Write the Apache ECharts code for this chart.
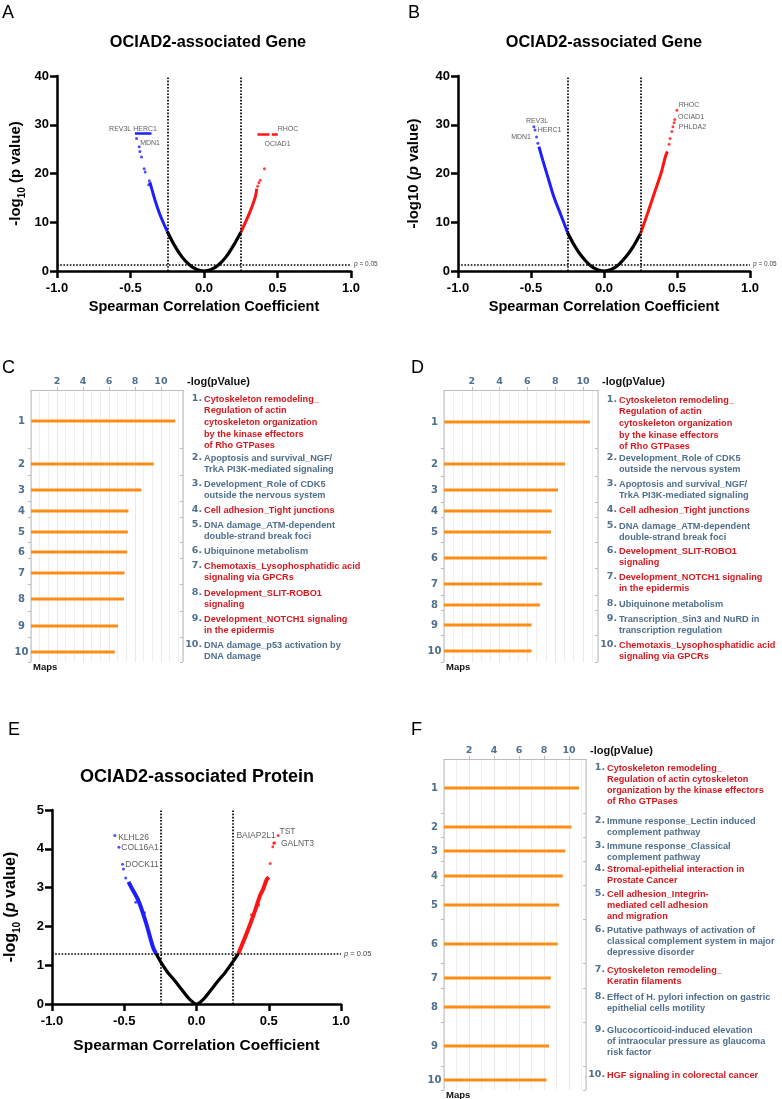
<!DOCTYPE html>
<html><head><meta charset="utf-8">
<script src="https://cdn.jsdelivr.net/npm/echarts@6/dist/echarts.min.js"></script>
<style>html,body{margin:0;padding:0;background:#fff}#main{width:782px;height:1099px}</style>
</head><body><div id="main"></div>
<script>
// ---------------- DATA ----------------
// Panel A volcano (Spearman r, -log10 p)
const aBlackCurve=[[-0.25,8.1],[-0.2,5.2],[-0.15,2.9],[-0.1,1.3],[-0.05,0.33],[0,0],[0.05,0.33],[0.1,1.3],[0.15,2.9],[0.2,5.2],[0.25,7.9]];
const aBlueCurve=[[-0.25,8.1],[-0.3,11.6],[-0.33,14.2],[-0.355,16.8],[-0.368,18.2]];
const aBlueDots=[[-0.372,18.5],[-0.376,17.7],[-0.4,20.3],[-0.407,21],[-0.425,23.4],[-0.436,24.5],[-0.441,25.5],[-0.459,27.2]];
const aRedCurve=[[0.25,7.9],[0.3,11.2],[0.33,13.5],[0.35,15.3],[0.359,16.9]];
const aRedDots=[[0.365,17.4],[0.373,18.1],[0.382,18.6],[0.411,21]];
const aBlueCapRuns=[[[-0.47,28.2],[-0.357,28.2]]];
const aRedCapRuns=[[[0.364,28.1],[0.445,28.1]],[[0.461,28.1],[0.502,28.1]]];
const aGeneLabels=[{name:'REV3L HERC1',value:[-0.483,29.1]},{name:'MDN1',value:[-0.367,26.3]},{name:'RHOC',value:[0.571,29.1]},{name:'OCIAD1',value:[0.5,26.0]}];

// Panel B volcano
const bBlackCurve=[[-0.25,7.9],[-0.2,5.1],[-0.15,2.9],[-0.1,1.3],[-0.05,0.33],[0,0],[0.05,0.33],[0.1,1.3],[0.15,2.9],[0.2,5.0],[0.25,7.7]];
const bBlueCurve=[[-0.25,7.9],[-0.294,11.4],[-0.34,14.9],[-0.385,19.3],[-0.419,22.7],[-0.446,25.5]];
const bBlueDots=[[-0.453,26.2],[-0.462,27.5],[-0.472,28.9],[-0.48,29.6]];
const bRedCurve=[[0.25,7.7],[0.298,11.8],[0.344,15.9],[0.39,20],[0.424,23.8],[0.435,24.5]];
const bRedDots=[[0.446,26],[0.453,27.2],[0.465,28.6],[0.472,29.6],[0.48,30.4],[0.485,31.1],[0.499,33]];
const bGeneLabels=[{name:'RHOC',value:[0.582,34.1]},{name:'OCIAD1',value:[0.596,31.6]},{name:'PHLDA2',value:[0.606,29.5]},{name:'REV3L',value:[-0.459,30.8]},{name:'HERC1',value:[-0.373,28.9]},{name:'MDN1',value:[-0.568,27.5]}];

// Panel E volcano (protein)
const eBlackCurve=[[-0.28,1.3],[-0.25,1.1],[-0.2,0.82],[-0.15,0.6],[-0.1,0.36],[-0.05,0.13],[0,0],[0.05,0.13],[0.1,0.36],[0.15,0.6],[0.2,0.82],[0.25,1.08],[0.29,1.3]];
const eBlueCurve=[[-0.28,1.3],[-0.3,1.45],[-0.35,2.1],[-0.4,2.65],[-0.45,3.0],[-0.47,3.15]];
const eBlueDots=[[-0.49,3.25],[-0.505,3.48],[-0.512,3.6],[-0.537,4.04],[-0.565,4.34],[-0.36,2.35],[-0.42,2.62]];
const eRedCurve=[[0.29,1.3],[0.35,1.85],[0.4,2.35],[0.44,2.8],[0.46,2.95],[0.485,3.2],[0.5,3.27]];
const eRedDots=[[0.51,3.62],[0.528,4.05],[0.535,4.15],[0.54,4.15],[0.565,4.34],[0.38,2.3],[0.43,2.55]];
const eGeneLabels=[{name:'KLHL26',value:[-0.436,4.30]},{name:'COL16A1',value:[-0.391,4.02]},{name:'DOCK11',value:[-0.377,3.58]},{name:'BAIAP2L1',value:[0.412,4.33]},{name:'TST',value:[0.63,4.43]},{name:'GALNT3',value:[0.699,4.12]}];

const pThreshold=1.301; // -log10(0.05)
const sigR=0.25;

// Panel C pathways
const pathC=[
 ['Cytoskeleton remodeling_','Regulation of actin','cytoskeleton organization','by the kinase effectors','of Rho GTPases'],
 ['Apoptosis and survival_NGF/','TrkA PI3K-mediated signaling'],
 ['Development_Role of CDK5','outside the nervous system'],
 ['Cell adhesion_Tight junctions'],
 ['DNA damage_ATM-dependent','double-strand break foci'],
 ['Ubiquinone metabolism'],
 ['Chemotaxis_Lysophosphatidic acid','signaling via GPCRs'],
 ['Development_SLIT-ROBO1','signaling'],
 ['Development_NOTCH1 signaling','in the epidermis'],
 ['DNA damage_p53 activation by','DNA damage']];
const hiC=[1,0,0,1,0,0,1,1,1,0];
const valC=[11.1,9.45,8.5,7.5,7.45,7.4,7.2,7.15,6.7,6.45];

// Panel D pathways
const pathD=[
 ['Cytoskeleton remodeling_','Regulation of actin','cytoskeleton organization','by the kinase effectors','of Rho GTPases'],
 ['Development_Role of CDK5','outside the nervous system'],
 ['Apoptosis and survival_NGF/','TrkA PI3K-mediated signaling'],
 ['Cell adhesion_Tight junctions'],
 ['DNA damage_ATM-dependent','double-strand break foci'],
 ['Development_SLIT-ROBO1','signaling'],
 ['Development_NOTCH1 signaling','in the epidermis'],
 ['Ubiquinone metabolism'],
 ['Transcription_Sin3 and NuRD in','transcription regulation'],
 ['Chemotaxis_Lysophosphatidic acid','signaling via GPCRs']];
const hiD=[1,0,0,1,0,1,1,0,0,1];
const valD=[10.5,8.7,8.2,7.75,7.7,7.4,7.05,6.9,6.3,6.3];

// Panel F pathways
const pathF=[
 ['Cytoskeleton remodeling_','Regulation of actin cytoskeleton','organization by the kinase effectors','of Rho GTPases'],
 ['Immune response_Lectin induced','complement pathway'],
 ['Immune response_Classical','complement pathway'],
 ['Stromal-epithelial interaction in','Prostate Cancer'],
 ['Cell adhesion_Integrin-','mediated cell adhesion','and migration'],
 ['Putative pathways of activation of','classical complement system in major','depressive disorder'],
 ['Cytoskeleton remodeling_','Keratin filaments'],
 ['Effect of H. pylori infection on gastric','epithelial cells motility'],
 ['Glucocorticoid-induced elevation','of intraocular pressure as glaucoma','risk factor'],
 ['HGF signaling in colorectal cancer']];
const hiF=[1,0,0,1,1,0,1,0,0,1];
const valF=[10.8,10.2,9.7,9.5,9.2,9.1,8.55,8.5,8.4,8.2];

const barTicks=[2,4,6,8,10];

// ---------------- LAYOUT (pixel offsets inside each bar panel) ----------------
const layC={barY:[31,74,100,121,142,162,183,209,236,262],textY:[9,68,94,120,135,161,176,203,229,255],ticks:[58,85,111,127,152,168,194,221,247,272],height:272,xMax:11.7,lh:11.7,minor:3};
const layD={barY:[32,74,100,121,142,168,194,215,235,261],textY:[10,68,94,120,136,161,187,214,229,255],ticks:[58,86,112,127,152,178,205,220,245,272],height:272,xMax:11.08,lh:11.7,minor:3};
const layF={barY:[29,68,92,117,146,185,219,248,287,321],textY:[9,62,87,110,135,171,211,238,271,316],ticks:[54,78,102,126,160,204,229,263,307,331],height:331,xMax:11.36,lh:11.1,minor:2};

const ARIAL='"Liberation Sans", Arial, Helvetica, sans-serif';
const DV='"DejaVu Sans", Verdana, sans-serif';
const RED='#d71920', STEEL='#4f6f8c', ORANGE='#ff8c14', FRAME='#bdbdbd';
const PBLUE='#1e1eff', PRED='#ff1414';

const chart=echarts.init(document.getElementById('main'));

const grids=[
 {left:57,top:76,width:294,height:195},
 {left:458,top:76,width:292,height:195},
 {left:52,top:810,width:289,height:194},
 {left:31,top:390,width:152,height:272},
 {left:444,top:390,width:154,height:272},
 {left:444,top:759,width:142,height:331}
].map(g=>Object.assign({containLabel:false,outerBoundsMode:'none'},g));

const richName={
 b:{fontSize:15,fontWeight:'bold',fontFamily:ARIAL,color:'#000',lineHeight:22,verticalAlign:'middle'},
 s:{fontSize:10,fontWeight:'bold',fontFamily:ARIAL,color:'#000',verticalAlign:'bottom'},
 i:{fontSize:15,fontWeight:'bold',fontStyle:'italic',fontFamily:ARIAL,color:'#000',lineHeight:22,verticalAlign:'middle'}
};
function volX(gi,nameSize,nameGap){
 return {gridIndex:gi,type:'value',min:-1,max:1,interval:0.5,
  axisLine:{show:true,onZero:false,lineStyle:{color:'#000',width:2.5}},
  axisTick:{show:true,length:7,lineStyle:{color:'#000',width:2.5}},
  axisLabel:{color:'#000',fontWeight:'bold',fontSize:13,fontFamily:ARIAL,margin:11,formatter:v=>v.toFixed(1)},
  splitLine:{show:false},
  name:'Spearman Correlation Coefficient',nameLocation:'middle',nameGap:nameGap,
  nameTextStyle:{fontWeight:'bold',fontSize:nameSize,color:'#000',fontFamily:ARIAL}};
}
function volY(gi,max,interval,name,gap,size){
 const rich=JSON.parse(JSON.stringify(richName));
 rich.b.fontSize=size; rich.i.fontSize=size;
 return {gridIndex:gi,type:'value',min:0,max:max,interval:interval,
  axisLine:{show:true,onZero:false,lineStyle:{color:'#000',width:2.5}},
  axisTick:{show:true,length:7,lineStyle:{color:'#000',width:2.5}},
  axisLabel:{color:'#000',fontWeight:'bold',fontSize:13,fontFamily:ARIAL,margin:8},
  splitLine:{show:false},
  name:name,nameLocation:'middle',nameGap:gap,
  nameTextStyle:{fontWeight:'bold',fontSize:size,color:'#000',fontFamily:ARIAL,rich:rich}};
}
function barX(gi,lay){
 return {gridIndex:gi,type:'value',position:'top',min:0,max:lay.xMax,interval:2,
  axisLine:{show:true,onZero:false,lineStyle:{color:FRAME,width:1}},
  axisTick:{show:true,length:3,lineStyle:{color:FRAME}},
  axisLabel:{color:STEEL,fontWeight:'bold',fontSize:9.5,fontFamily:DV,margin:3,showMaxLabel:false,showMinLabel:false,
   formatter:v=>barTicks.indexOf(v)>=0?String(v):''},
  splitLine:{show:true,lineStyle:{color:'#e8e8e8',width:1}},
  minorTick:{show:false,splitNumber:lay.minor},
  minorSplitLine:{show:true,lineStyle:{color:'#efefef',width:1}}};
}
function barY(gi,lay){
 return {gridIndex:gi,type:'value',inverse:true,min:0,max:lay.height,show:false};
}

function volSeries(gi,black,blue,blueDots,red,redDots,labels,labelSize,pSize,blueRuns,redRuns,colW){
 const s=[];
 s.push({type:'line',xAxisIndex:gi,yAxisIndex:gi,data:black,smooth:0.3,showSymbol:false,z:3,
  lineStyle:{color:'#000',width:3.2},
  markLine:{silent:true,symbol:'none',animation:false,
   lineStyle:{type:[1.6,1.6],color:'#000',width:1.7},
   label:{show:false},
   data:[{xAxis:-sigR},{xAxis:sigR},
    {yAxis:pThreshold,label:{show:true,position:'end',distance:3,formatter:'{i|p} = 0.05',color:'#444',fontSize:pSize,fontFamily:ARIAL,
      rich:{i:{fontStyle:'italic',fontSize:pSize,color:'#444',fontFamily:ARIAL}}}}]}});
 s.push({type:'line',xAxisIndex:gi,yAxisIndex:gi,data:blue,smooth:0.3,showSymbol:false,z:4,lineStyle:{color:PBLUE,width:colW}});
 s.push({type:'line',xAxisIndex:gi,yAxisIndex:gi,data:red,smooth:0.3,showSymbol:false,z:4,lineStyle:{color:PRED,width:colW}});
 s.push({type:'scatter',xAxisIndex:gi,yAxisIndex:gi,data:blueDots,symbolSize:3,z:4,itemStyle:{color:PBLUE}});
 s.push({type:'scatter',xAxisIndex:gi,yAxisIndex:gi,data:redDots,symbolSize:3,z:4,itemStyle:{color:PRED}});
 if(blueRuns||redRuns){
  const d=[];
  (blueRuns||[]).forEach(c=>d.push({coords:c,lineStyle:{color:PBLUE}}));
  (redRuns||[]).forEach(c=>d.push({coords:c,lineStyle:{color:PRED}}));
  s.push({type:'lines',coordinateSystem:'cartesian2d',xAxisIndex:gi,yAxisIndex:gi,data:d,z:4,lineStyle:{width:2.5,opacity:1}});
 }
 s.push({type:'scatter',xAxisIndex:gi,yAxisIndex:gi,data:labels,symbolSize:0,z:6,silent:true,
  label:{show:true,position:'inside',formatter:'{b}',color:'#333',fontSize:labelSize,fontFamily:ARIAL}});
 return s;
}

function barSeries(gi,vals,paths,hi,lay){
 return {type:'custom',coordinateSystem:'cartesian2d',xAxisIndex:gi,yAxisIndex:gi,clip:false,
  data:vals.map((v,i)=>[v,i]),encode:{x:0,y:1},
  renderItem:function(params,api){
   const i=params.dataIndex;
   const v=api.value(0);
   const y=lay.barY[i];
   const p0=api.coord([0,y]);
   const p1=api.coord([v,y]);
   const left=p0[0];
   const right=api.coord([lay.xMax,0])[0];
   const top=api.coord([0,0])[1];
   const bottom=api.coord([0,lay.height])[1];
   const ty=api.coord([0,lay.textY[i]])[1];
   const ch=[
    {type:'rect',shape:{x:left,y:p0[1]-1.5,width:p1[0]-left,height:3},style:{fill:ORANGE}},
    {type:'text',style:{text:String(i+1),x:left-9.5,y:p0[1],align:'center',verticalAlign:'middle',
      font:'bold 10px '+DV,fill:STEEL}},
    {type:'text',style:{text:(i+1)+'.',x:right+19,y:ty,align:'right',verticalAlign:'middle',
      font:'bold 9.5px '+DV,fill:STEEL}},
    {type:'text',style:{text:paths[i].join('\n'),x:right+21,y:ty-lay.lh/2,align:'left',verticalAlign:'top',
      lineHeight:lay.lh,font:'bold 9.2px '+ARIAL,fill:hi[i]?RED:STEEL}}
   ];
   if(i===0){
    ch.push({type:'line',shape:{x1:left,y1:top,x2:left,y2:bottom},style:{stroke:FRAME,lineWidth:1}});
    ch.push({type:'line',shape:{x1:right,y1:top,x2:right,y2:bottom},style:{stroke:FRAME,lineWidth:1}});
    lay.ticks.forEach(t=>{
     const yy=Math.round(api.coord([0,t])[1])+0.5;
     ch.push({type:'line',shape:{x1:left-3,y1:yy,x2:left,y2:yy},style:{stroke:FRAME,lineWidth:1}});
     ch.push({type:'line',shape:{x1:right-3,y1:yy,x2:right,y2:yy},style:{stroke:FRAME,lineWidth:1}});
    });
    ch.push({type:'text',style:{text:'-log(pValue)',x:right+4,y:top-8,align:'left',verticalAlign:'middle',
      font:'bold 11px '+ARIAL,fill:'#111'}});
    ch.push({type:'text',style:{text:'Maps',x:left+2,y:bottom+5,align:'left',verticalAlign:'middle',
      font:'bold 9.5px '+ARIAL,fill:'#111'}});
   }
   return {type:'group',children:ch};
  }};
}

const yNameA='{b|-log}{s|10}{b| (p value)}';
const yNameB='{b|-log10 (}{i|p}{b| value)}';
const yNameE='{b|-log}{s|10}{b| (}{i|p}{b| value)}';

const series=[].concat(
 volSeries(0,aBlackCurve,aBlueCurve,aBlueDots,aRedCurve,aRedDots,aGeneLabels,7,6.5,aBlueCapRuns,aRedCapRuns,3),
 volSeries(1,bBlackCurve,bBlueCurve,bBlueDots,bRedCurve,bRedDots,bGeneLabels,7,6.5,null,null,3),
 volSeries(2,eBlackCurve,eBlueCurve,eBlueDots,eRedCurve,eRedDots,eGeneLabels,8.5,7.5,null,null,4),
 [barSeries(3,valC,pathC,hiC,layC),barSeries(4,valD,pathD,hiD,layD),barSeries(5,valF,pathF,hiF,layF)]
);

function gtext(t,x,y,font,align){
 return {type:'text',x:x,y:y,silent:true,style:{text:t,font:font,fill:'#000',align:align||'left',verticalAlign:'middle'}};
}
const letterFont='18px '+ARIAL;
const graphic=[
 gtext('A',2,13,letterFont),gtext('B',408,13,letterFont),
 gtext('C',2,368,letterFont),gtext('D',411,368,letterFont),
 gtext('E',8,730,letterFont),gtext('F',411,730,letterFont),
 gtext('OCIAD2-associated Gene',208,43,'bold 16.3px '+ARIAL,'center'),
 gtext('OCIAD2-associated Gene',604,43,'bold 16.3px '+ARIAL,'center'),
 gtext('OCIAD2-associated Protein',197,777,'bold 18px '+ARIAL,'center')
];

chart.setOption({
 animation:false,
 backgroundColor:'#fff',
 grid:grids,
 xAxis:[volX(0,14.5,28),volX(1,14.5,28),volX(2,15.5,34),barX(3,layC),barX(4,layD),barX(5,layF)],
 yAxis:[volY(0,40,10,yNameA,30,15),volY(1,40,10,yNameB,33,15),volY(2,5,1,yNameE,30,16),barY(3,layC),barY(4,layD),barY(5,layF)],
 series:series,
 graphic:graphic
});
</script></body></html>
